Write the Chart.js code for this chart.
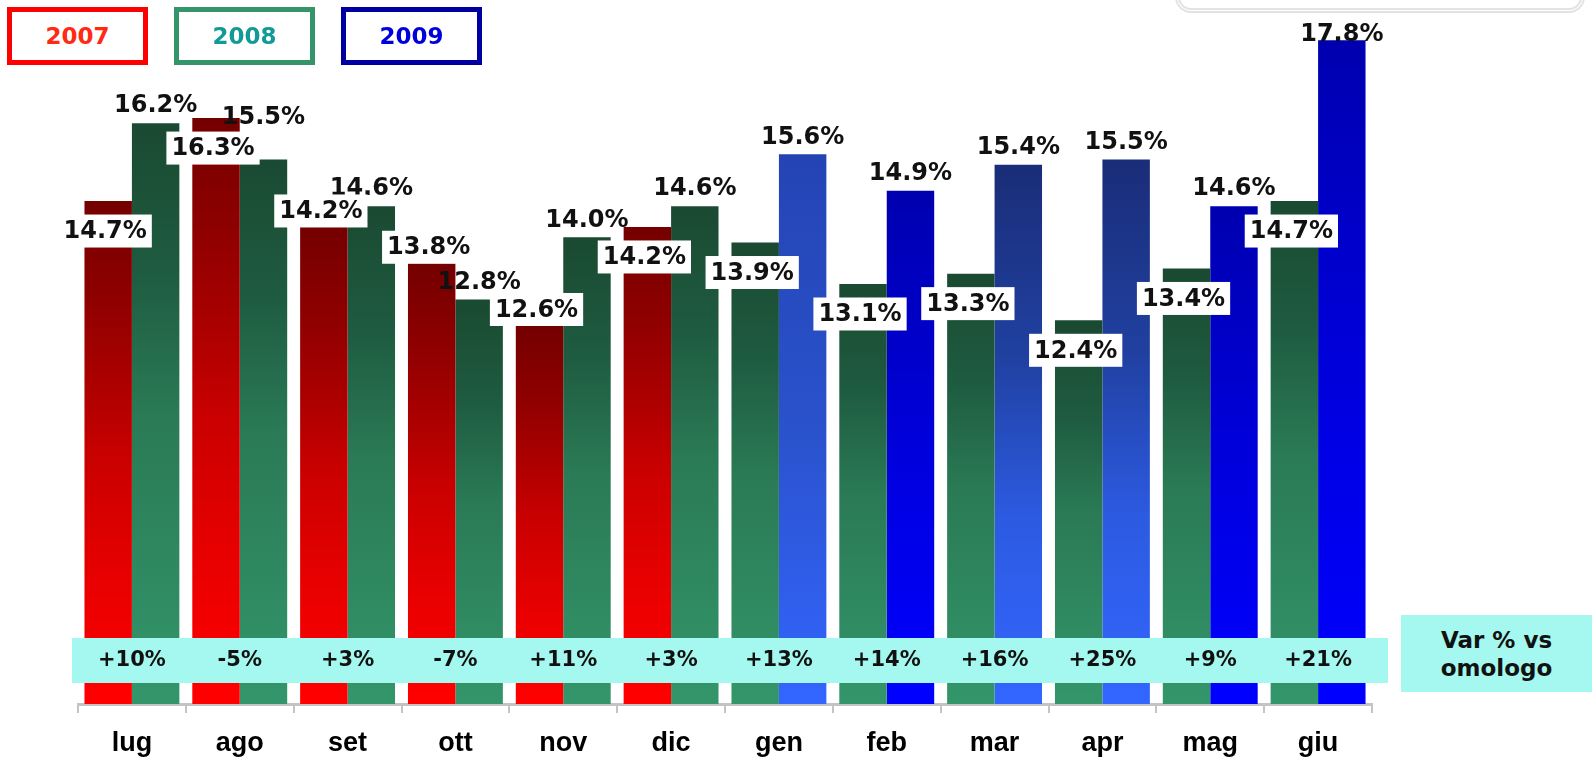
<!DOCTYPE html>
<html>
<head>
<meta charset="utf-8">
<script src="https://cdn.jsdelivr.net/npm/chart.js@4.4.0/dist/chart.umd.min.js"></script>
<style>
  body { margin: 0; background: #fff; }
  #wrap { position: relative; width: 1592px; height: 764px; overflow: hidden; }
  .leg {
    position: absolute; top: 7px; width: 141px; height: 58px; box-sizing: border-box;
    border: 5px solid; background: #fff; font: bold 23px "DejaVu Sans";
    display: flex; align-items: center; justify-content: center;
  }
  #var {
    position: absolute; left: 1401px; top: 615px; width: 191px; height: 77px;
    background: #a5f8ef; font: bold 23px "DejaVu Sans"; color: #111;
    text-align: center; line-height: 28px; padding-top: 11px; box-sizing: border-box;
  }
  #frame {
    position: absolute; left: 1175px; top: -40px; width: 410px; height: 53px;
    box-sizing: border-box; border: 5px double #e2e2e2; border-radius: 16px;
  }
</style>
</head>
<body>
<div id="wrap">
  <canvas id="myChart" width="1592" height="764"></canvas>
  <div id="frame"></div>
  <div id="var">Var % vs<br>omologo</div>
</div>
<script>
const months = ["lug", "ago", "set", "ott", "nov", "dic", "gen", "feb", "mar", "apr", "mag", "giu"];
// bar heights as drawn in the picture
const leftValues = [14.7, 16.3, 14.2, 13.5, 12.3, 14.2, 13.9, 13.1, 13.3, 12.4, 13.4, 14.7];
const rightValues = [16.2, 15.5, 14.6, 12.8, 14.0, 14.6, 15.6, 14.9, 15.4, 15.5, 14.6, 17.8];
// value labels as printed
const leftLabels = ["14.7%", "16.3%", "14.2%", "13.8%", "12.6%", "14.2%", "13.9%", "13.1%", "13.3%", "12.4%", "13.4%", "14.7%"];
const rightLabels = ["16.2%", "15.5%", "14.6%", "12.8%", "14.0%", "14.6%", "15.6%", "14.9%", "15.4%", "15.5%", "14.6%", "17.8%"];
const leftYears = ["2007", "2007", "2007", "2007", "2007", "2007", "2008", "2008", "2008", "2008", "2008", "2008"];
const rightYears = ["2008", "2008", "2008", "2008", "2008", "2008", "2009", "2009", "2009", "2009", "2009", "2009"];
const varLabels = ["+10%", "-5%", "+3%", "-7%", "+11%", "+3%", "+13%", "+14%", "+16%", "+25%", "+9%", "+21%"];
const legendYears = ["2007", "2008", "2009"];

// styling
const legendBorder = { "2007": "#ff0000", "2008": "#35956a", "2009": "#0000a0" };
const legendText = { "2007": "#ff2a14", "2008": "#129a96", "2009": "#0000dd" };
const gradients = {
  "2007": [[0, "#740000"], [0.2, "#900000"], [0.4, "#b30000"], [0.5, "#c80000"], [0.75, "#e80000"], [1, "#ff0000"]],
  "2008": [[0, "#1a4a31"], [0.25, "#1e5b40"], [0.5, "#2a7a55"], [1, "#33966a"]],
  pure: [[0, "#0000b0"], [0.6, "#0000e4"], [1, "#0000ff"]],
  royal: [[0, "#2444b4"], [0.5, "#2a52cc"], [1, "#3366ff"]],
  navy: [[0, "#1a2d78"], [0.35, "#2040a0"], [0.65, "#2c5ae0"], [1, "#3366ff"]]
};
// shade of each 2009 bar, index by month
const blueShade = [null, null, null, null, null, null, "royal", "pure", "navy", "navy", "pure", "pure"];
// left labels that sit above their bar instead of inside
const leftLabelAbove = [2, 3, 4];

legendYears.forEach((y, i) => {
  let d = document.createElement("div");
  d.className = "leg";
  d.style.left = 7 + i * 167 + "px";
  d.style.borderColor = legendBorder[y];
  d.style.color = legendText[y];
  d.innerText = y;
  document.getElementById("wrap").appendChild(d);
});

function barColor(context, values, years) {
  let chart = context.chart;
  if (!chart.chartArea) return "#888";
  let i = context.dataIndex;
  let key = years[i] === "2009" ? blueShade[i] : years[i];
  let y = chart.scales.y;
  let g = chart.ctx.createLinearGradient(0, y.getPixelForValue(values[i]), 0, y.getPixelForValue(y.min));
  gradients[key].forEach(s => g.addColorStop(s[0], s[1]));
  return g;
}

const overlay = {
  id: "overlay",
  afterDatasetsDraw(chart) {
    let ctx = chart.ctx;
    let x = chart.scales.x;
    let area = chart.chartArea;
    ctx.save();
    // band with the % variation
    ctx.fillStyle = "#a5f8ef";
    ctx.fillRect(x.left - 6, area.bottom - 66, x.right - x.left + 22, 45);
    ctx.fillStyle = "#111";
    ctx.textAlign = "center";
    ctx.textBaseline = "middle";
    ctx.font = 'bold 21px "DejaVu Sans"';
    varLabels.forEach((t, i) => ctx.fillText(t, x.getPixelForValue(i), area.bottom - 43));

    ctx.font = 'bold 24px "DejaVu Sans"';
    let leftBars = chart.getDatasetMeta(0).data;
    let boxes = leftBars.map((bar, i) => {
      let w = ctx.measureText(leftLabels[i]).width + 10;
      let cy = leftLabelAbove.includes(i) ? bar.y - 16 : bar.y + 30;
      return { x: bar.x - 3, y: cy, w: w, inside: !leftLabelAbove.includes(i) };
    });
    chart.getDatasetMeta(1).data.forEach((bar, i) => {
      let cy = Math.max(bar.y - 17, 35);
      let w = ctx.measureText(rightLabels[i]).width;
      let b = boxes[i];
      // lift the label when it would hide behind the inside box of its neighbour
      if (b.inside && Math.abs(cy - b.y) < 29 && bar.x - w / 2 < b.x + b.w / 2) {
        cy = b.y - 16.5 - 14;
      }
      ctx.fillText(rightLabels[i], bar.x, cy);
    });
    boxes.forEach((b, i) => {
      ctx.fillStyle = "#fff";
      ctx.fillRect(b.x - b.w / 2, b.y - 16.5, b.w, 33);
      ctx.fillStyle = "#111";
      ctx.fillText(leftLabels[i], b.x, b.y + 1);
    });
    ctx.restore();
  }
};

let chart = new Chart(document.getElementById("myChart").getContext("2d"), {
  type: "bar",
  data: {
    labels: months,
    datasets: [
      {
        data: leftValues,
        backgroundColor: c => barColor(c, leftValues, leftYears),
        categoryPercentage: 0.88,
        barPercentage: 1
      },
      {
        data: rightValues,
        backgroundColor: c => barColor(c, rightValues, rightYears),
        categoryPercentage: 0.88,
        barPercentage: 1
      }
    ]
  },
  options: {
    responsive: false,
    animation: false,
    layout: { padding: { left: 78, right: 220, top: 4, bottom: 0 } },
    plugins: { legend: { display: false }, tooltip: { enabled: false } },
    scales: {
      x: {
        grid: { drawOnChartArea: false, drawTicks: true, tickLength: 9, color: "#c4c4c4", lineWidth: 2 },
        border: { display: true, color: "#c4c4c4", width: 3 },
        ticks: {
          color: "#000",
          padding: 14,
          maxRotation: 0,
          font: { family: "Liberation Sans", size: 27, weight: "bold" }
        },
        afterFit: a => { a.height = 60; }
      },
      y: { display: false, min: 5, max: 18.5 }
    }
  },
  plugins: [overlay]
});
</script>
</body>
</html>
